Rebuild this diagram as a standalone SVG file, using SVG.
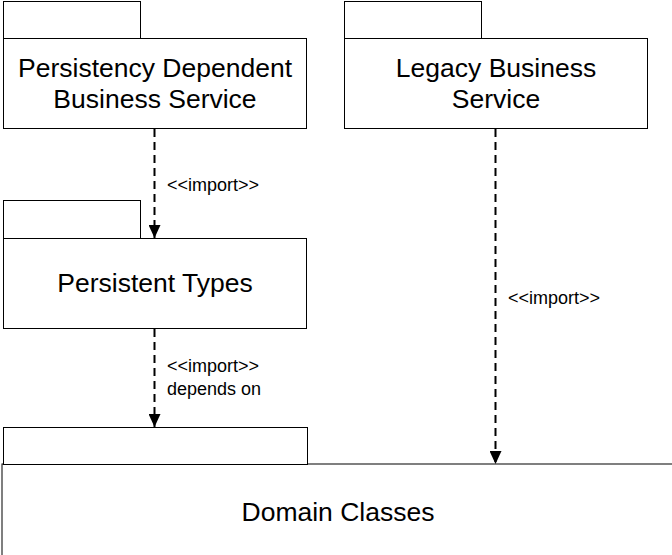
<svg xmlns="http://www.w3.org/2000/svg" width="672" height="555" viewBox="0 0 672 555">
  <defs>
    <style>
      .box { fill: #ffffff; stroke: #000000; stroke-width: 1; }
      .title { font-family: "Liberation Sans", Arial, sans-serif; font-size: 26.5px; fill: #000000; text-anchor: middle; }
      .label { font-family: "Liberation Sans", Arial, sans-serif; font-size: 18px; fill: #000000; }
      .dep { fill: none; stroke: #000000; stroke-width: 2; stroke-dasharray: 8 5; marker-end: url(#arrow); }
    </style>
    <marker id="arrow" viewBox="0 0 13 12" refX="13" refY="6" markerWidth="13" markerHeight="12" markerUnits="userSpaceOnUse" orient="auto">
      <path d="M0,0 L13,6 L0,12 Z" fill="#000000"/>
    </marker>
  </defs>
  <rect width="672" height="555" fill="#ffffff"/>

  <!-- Packages -->
  <g id="persistency-dependent-business-service">
    <rect class="box" x="3.5" y="1.5" width="137" height="37"/>
    <rect class="box" x="3.5" y="38.5" width="303" height="90"/>
    <text class="title" x="155" y="77">Persistency Dependent</text>
    <text class="title" x="155" y="108">Business Service</text>
  </g>

  <g id="legacy-business-service">
    <rect class="box" x="344.5" y="1.5" width="137" height="37"/>
    <rect class="box" x="344.5" y="38.5" width="303" height="90"/>
    <text class="title" x="496" y="77">Legacy Business</text>
    <text class="title" x="496" y="108">Service</text>
  </g>

  <g id="persistent-types">
    <rect class="box" x="3.5" y="200.5" width="137" height="38"/>
    <rect class="box" x="3.5" y="238.5" width="303" height="90"/>
    <text class="title" x="155" y="292">Persistent Types</text>
  </g>

  <g id="domain-classes">
    <!-- body runs past the right and bottom edges of the canvas -->
    <rect class="box" x="2" y="464" width="720" height="150"/>
    <rect class="box" x="3.5" y="427.5" width="304" height="37"/>
    <text class="title" x="338" y="521">Domain Classes</text>
  </g>

  <!-- Dependencies -->
  <g id="connectors">
    <line class="dep" x1="154.5" y1="129" x2="154.5" y2="238"/>
    <text class="label" x="167" y="191">&lt;&lt;import&gt;&gt;</text>

    <line class="dep" x1="154.5" y1="329" x2="154.5" y2="427"/>
    <text class="label" x="167" y="372">&lt;&lt;import&gt;&gt;</text>
    <text class="label" x="167" y="395">depends on</text>

    <line class="dep" x1="495.5" y1="129" x2="495.5" y2="464"/>
    <text class="label" x="508" y="304">&lt;&lt;import&gt;&gt;</text>
  </g>
</svg>
